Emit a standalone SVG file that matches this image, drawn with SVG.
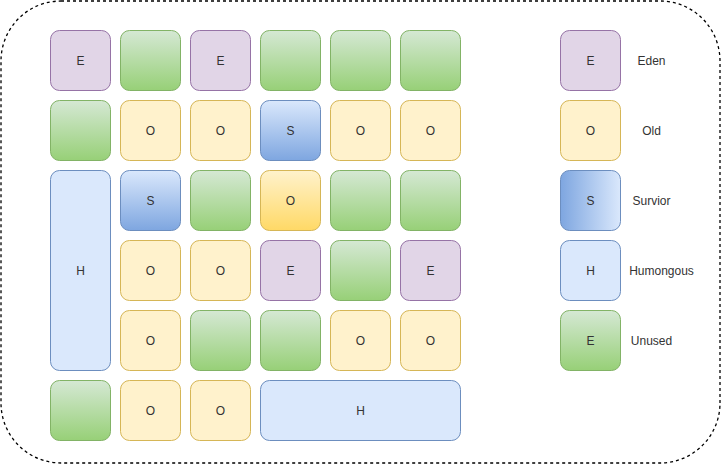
<svg xmlns="http://www.w3.org/2000/svg" width="721" height="464" viewBox="0 0 721 464">
<defs>
<linearGradient id="gG" x1="0" y1="0" x2="0" y2="1"><stop offset="0" stop-color="#d5e8d4"/><stop offset="1" stop-color="#97d077"/></linearGradient>
<linearGradient id="gS" x1="0" y1="0" x2="0" y2="1"><stop offset="0" stop-color="#dae8fc"/><stop offset="1" stop-color="#7ea6e0"/></linearGradient>
<linearGradient id="gSH" x1="0" y1="0" x2="1" y2="0"><stop offset="0" stop-color="#7ea6e0"/><stop offset="1" stop-color="#dae8fc"/></linearGradient>
<linearGradient id="gO" x1="0" y1="0" x2="0" y2="1"><stop offset="0" stop-color="#fff2cc"/><stop offset="1" stop-color="#ffd966"/></linearGradient>
</defs>
<style>
rect{stroke-width:1}
.e{fill:#e1d5e7;stroke:#9673a6}
.o{fill:#fff2cc;stroke:#d6b656}
.oo{fill:url(#gO);stroke:#d6b656}
.g{fill:url(#gG);stroke:#82b366}
.s{fill:url(#gS);stroke:#6c8ebf}
.sh{fill:url(#gSH);stroke:#6c8ebf}
.h{fill:#dae8fc;stroke:#6c8ebf}
text{font-family:"Liberation Sans",Arial,sans-serif;font-size:12px;fill:#333333;text-anchor:middle}
.frame{fill:none;stroke:#000000;stroke-width:1.3;stroke-dasharray:3 3}
</style>
<rect class="frame" x="1" y="1" width="719" height="462" rx="60" ry="60"/>
<g id="grid">
<g id="r0c0"><rect class="e" x="50.5" y="30.5" width="60" height="60" rx="9"/><text x="80.5" y="64.5">E</text></g>
<g id="r0c1"><rect class="g" x="120.5" y="30.5" width="60" height="60" rx="9"/></g>
<g id="r0c2"><rect class="e" x="190.5" y="30.5" width="60" height="60" rx="9"/><text x="220.5" y="64.5">E</text></g>
<g id="r0c3"><rect class="g" x="260.5" y="30.5" width="60" height="60" rx="9"/></g>
<g id="r0c4"><rect class="g" x="330.5" y="30.5" width="60" height="60" rx="9"/></g>
<g id="r0c5"><rect class="g" x="400.5" y="30.5" width="60" height="60" rx="9"/></g>

<g id="r1c0"><rect class="g" x="50.5" y="100.5" width="60" height="60" rx="9"/></g>
<g id="r1c1"><rect class="o" x="120.5" y="100.5" width="60" height="60" rx="9"/><text x="150.5" y="134.5">O</text></g>
<g id="r1c2"><rect class="o" x="190.5" y="100.5" width="60" height="60" rx="9"/><text x="220.5" y="134.5">O</text></g>
<g id="r1c3"><rect class="s" x="260.5" y="100.5" width="60" height="60" rx="9"/><text x="290.5" y="134.5">S</text></g>
<g id="r1c4"><rect class="o" x="330.5" y="100.5" width="60" height="60" rx="9"/><text x="360.5" y="134.5">O</text></g>
<g id="r1c5"><rect class="o" x="400.5" y="100.5" width="60" height="60" rx="9"/><text x="430.5" y="134.5">O</text></g>

<g id="h1"><rect class="h" x="50.5" y="170.5" width="60" height="200" rx="9"/><text x="80.5" y="274.5">H</text></g>
<g id="r2c1"><rect class="s" x="120.5" y="170.5" width="60" height="60" rx="9"/><text x="150.5" y="204.5">S</text></g>
<g id="r2c2"><rect class="g" x="190.5" y="170.5" width="60" height="60" rx="9"/></g>
<g id="r2c3"><rect class="oo" x="260.5" y="170.5" width="60" height="60" rx="9"/><text x="290.5" y="204.5">O</text></g>
<g id="r2c4"><rect class="g" x="330.5" y="170.5" width="60" height="60" rx="9"/></g>
<g id="r2c5"><rect class="g" x="400.5" y="170.5" width="60" height="60" rx="9"/></g>

<g id="r3c1"><rect class="o" x="120.5" y="240.5" width="60" height="60" rx="9"/><text x="150.5" y="274.5">O</text></g>
<g id="r3c2"><rect class="o" x="190.5" y="240.5" width="60" height="60" rx="9"/><text x="220.5" y="274.5">O</text></g>
<g id="r3c3"><rect class="e" x="260.5" y="240.5" width="60" height="60" rx="9"/><text x="290.5" y="274.5">E</text></g>
<g id="r3c4"><rect class="g" x="330.5" y="240.5" width="60" height="60" rx="9"/></g>
<g id="r3c5"><rect class="e" x="400.5" y="240.5" width="60" height="60" rx="9"/><text x="430.5" y="274.5">E</text></g>

<g id="r4c1"><rect class="o" x="120.5" y="310.5" width="60" height="60" rx="9"/><text x="150.5" y="344.5">O</text></g>
<g id="r4c2"><rect class="g" x="190.5" y="310.5" width="60" height="60" rx="9"/></g>
<g id="r4c3"><rect class="g" x="260.5" y="310.5" width="60" height="60" rx="9"/></g>
<g id="r4c4"><rect class="o" x="330.5" y="310.5" width="60" height="60" rx="9"/><text x="360.5" y="344.5">O</text></g>
<g id="r4c5"><rect class="o" x="400.5" y="310.5" width="60" height="60" rx="9"/><text x="430.5" y="344.5">O</text></g>

<g id="r5c0"><rect class="g" x="50.5" y="380.5" width="60" height="60" rx="9"/></g>
<g id="r5c1"><rect class="o" x="120.5" y="380.5" width="60" height="60" rx="9"/><text x="150.5" y="414.5">O</text></g>
<g id="r5c2"><rect class="o" x="190.5" y="380.5" width="60" height="60" rx="9"/><text x="220.5" y="414.5">O</text></g>
<g id="h2"><rect class="h" x="260.5" y="380.5" width="200" height="60" rx="9"/><text x="360.5" y="414.5">H</text></g>
</g>
<g id="legend">
<g id="lg-eden"><rect class="e" x="560.5" y="30.5" width="60" height="60" rx="9"/><text x="590.5" y="64.5">E</text><text x="651.5" y="64.5">Eden</text></g>
<g id="lg-old"><rect class="o" x="560.5" y="100.5" width="60" height="60" rx="9"/><text x="590.5" y="134.5">O</text><text x="651.5" y="134.5">Old</text></g>
<g id="lg-surv"><rect class="sh" x="560.5" y="170.5" width="60" height="60" rx="9"/><text x="590.5" y="204.5">S</text><text x="651.5" y="204.5">Survior</text></g>
<g id="lg-hum"><rect class="h" x="560.5" y="240.5" width="60" height="60" rx="9"/><text x="590.5" y="274.5">H</text><text x="661.5" y="274.5">Humongous</text></g>
<g id="lg-unused"><rect class="g" x="560.5" y="310.5" width="60" height="60" rx="9"/><text x="590.5" y="344.5">E</text><text x="651.5" y="344.5">Unused</text></g>
</g>
<g id="connectors"/>
</svg>
